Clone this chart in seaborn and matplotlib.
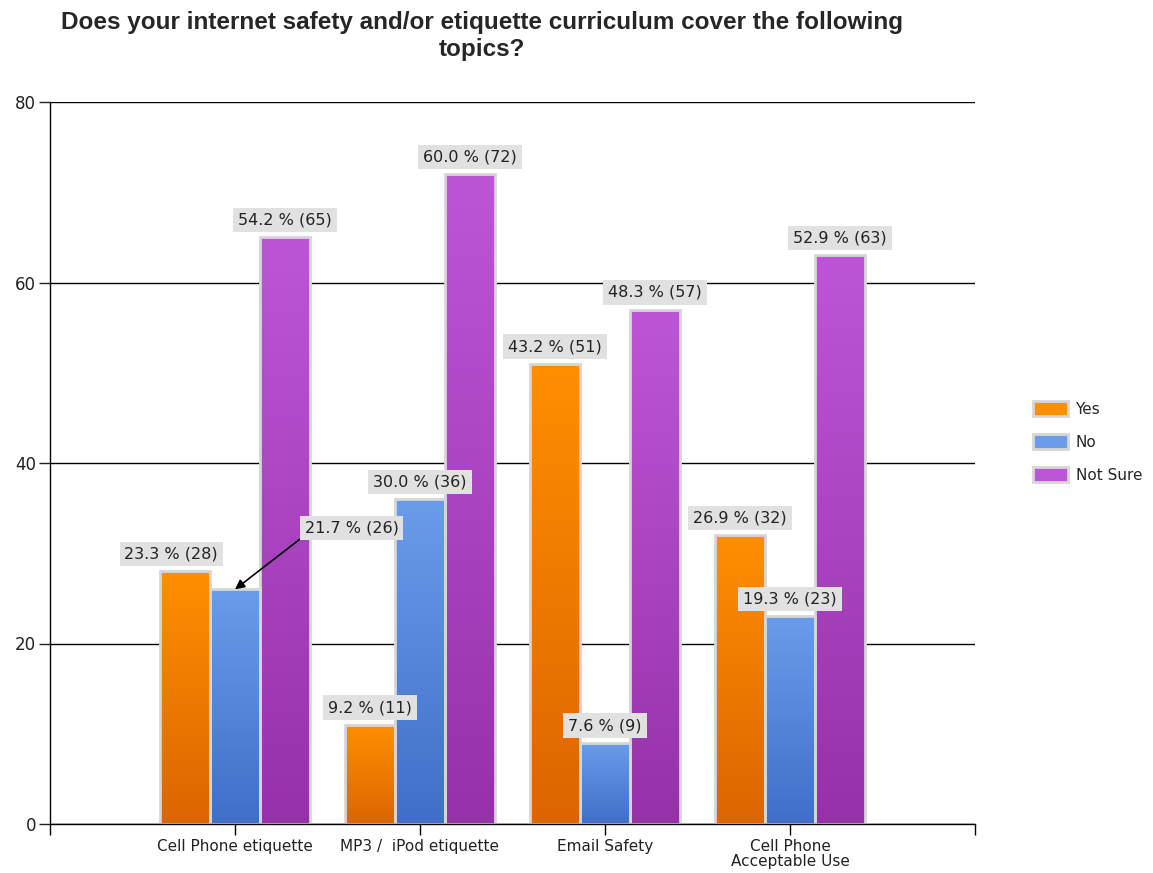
import matplotlib
matplotlib.use("Agg")
import numpy as np
import pandas as pd
import matplotlib.pyplot as plt
import seaborn as sns
from matplotlib.colors import LinearSegmentedColormap
from matplotlib.patches import Patch

# DATA ===========================================================================
topics = ["Cell Phone etiquette", "MP3 /  iPod etiquette", "Email Safety", "Cell Phone\nAcceptable Use"]
answers = ["Yes", "No", "Not Sure"]
yes_counts = [28, 11, 51, 32]
no_counts = [26, 36, 9, 23]
notsure_counts = [65, 72, 57, 63]
yes_pct = [23.3, 9.2, 43.2, 26.9]
no_pct = [21.7, 30.0, 7.6, 19.3]
notsure_pct = [54.2, 60.0, 48.3, 52.9]

# colours (bottom, top) of each bar gradient
grad_colors = {
    "Yes": ("#dc6500", "#ff8f00"),
    "No": ("#3f6fc8", "#6a9cea"),
    "Not Sure": ("#9631aa", "#bd56d6"),
}

rows = []
for i, t in enumerate(topics):
    rows.append({"topic": t, "answer": "Yes", "count": yes_counts[i], "pct": yes_pct[i]})
    rows.append({"topic": t, "answer": "No", "count": no_counts[i], "pct": no_pct[i]})
    rows.append({"topic": t, "answer": "Not Sure", "count": notsure_counts[i], "pct": notsure_pct[i]})
data = pd.DataFrame(rows)

# PLOT ===========================================================================
sns.set_style("white")
plt.rcParams["font.family"] = ["DejaVu Sans"]

fig = plt.figure(figsize=(11.53, 8.73), dpi=100)
ax = fig.add_axes([50 / 1153, 1 - 824 / 873, 925 / 1153, 722 / 873])

sns.barplot(data=data, x="topic", y="count", hue="answer", hue_order=answers,
            order=topics, width=0.81, palette=[grad_colors[a][1] for a in answers],
            ax=ax, legend=False, zorder=2)

# gradient fill for every bar, clipped to the bar
for container, ans in zip(ax.containers, answers):
    cmap = LinearSegmentedColormap.from_list(ans, list(grad_colors[ans]))
    grad = np.linspace(0, 1, 256).reshape(-1, 1)
    for bar in container:
        x0, y0 = bar.get_x(), bar.get_y()
        x1, y1 = x0 + bar.get_width(), y0 + bar.get_height()
        im = ax.imshow(grad, extent=[x0, x1, y0, y1], origin="lower", aspect="auto",
                       cmap=cmap, zorder=1.9, interpolation="bilinear")
        im.set_clip_path(bar)
        bar.set_facecolor("none")
        bar.set_edgecolor("#d6d6d6")
        bar.set_linewidth(2.0)

ax.set_xlim(-1, 4)
ax.set_ylim(0, 80)

# value labels
label_offsets = {("Cell Phone etiquette", "Yes"): -0.075}
for container, ans in zip(ax.containers, answers):
    sub = data[data["answer"] == ans].set_index("topic").loc[topics]
    for bar, (t, r) in zip(container, sub.iterrows()):
        xc = bar.get_x() + bar.get_width() / 2
        h = bar.get_height()
        txt = f"{r['pct']:.1f} % ({r['count']})"
        box = dict(boxstyle="square,pad=0.3", fc="#e1e1e1", ec="none")
        if t == "Cell Phone etiquette" and ans == "No":
            ax.annotate(txt, xy=(xc, h), xytext=(xc + 0.63, h + 6.8),
                        ha="center", va="center", fontsize=11.5, color="#222222",
                        bbox=box, zorder=5,
                        arrowprops=dict(arrowstyle="-|>", color="black", lw=1.2,
                                        relpos=(0, 0), shrinkA=0, shrinkB=0,
                                        mutation_scale=14))
        else:
            ax.annotate(txt, xy=(xc + label_offsets.get((t, ans), 0), h),
                        xytext=(0, 7), textcoords="offset points",
                        ha="center", va="bottom", fontsize=11.5, color="#222222",
                        bbox=box, zorder=5)

# axes styling
ax.set_axisbelow(True)
ax.grid(axis="y", color="black", linewidth=1.0)
ax.grid(axis="x", visible=False)
for s in ["top", "right"]:
    ax.spines[s].set_visible(False)
for s in ["left", "bottom"]:
    ax.spines[s].set_color("black")
    ax.spines[s].set_linewidth(1.0)

ax.set_yticks([0, 20, 40, 60, 80])
ax.set_xticks([-1, 0, 1, 2, 3, 4])
ax.set_xticklabels([""] + topics + [""], fontsize=11, color="#222222", linespacing=1.0)
ax.tick_params(axis="y", labelsize=12, colors="#222222", length=8, width=1, direction="out", pad=2, left=True)
ax.tick_params(axis="x", length=8, width=1, direction="out", pad=3, bottom=True, color="black")
ax.set_xlabel("")
ax.set_ylabel("")

# legend
handles = [Patch(facecolor=grad_colors[a][1], edgecolor="#d6d6d6", linewidth=2, label=a) for a in answers]
fig.legend(handles=handles, loc="center left", bbox_to_anchor=(1019 / 1153, 1 - 442 / 873),
           frameon=False, fontsize=11, handlelength=2.3, handleheight=1.1,
           labelspacing=1.15, handletextpad=0.5)

fig.text(482 / 1153, 1 - 36 / 873,
         "Does your internet safety and/or etiquette curriculum cover the following\ntopics?",
         ha="center", va="center", fontsize=17.5, fontweight="bold",
         family=["Liberation Sans", "DejaVu Sans"], linespacing=1.2)

plt.savefig("out.png", dpi=100)
